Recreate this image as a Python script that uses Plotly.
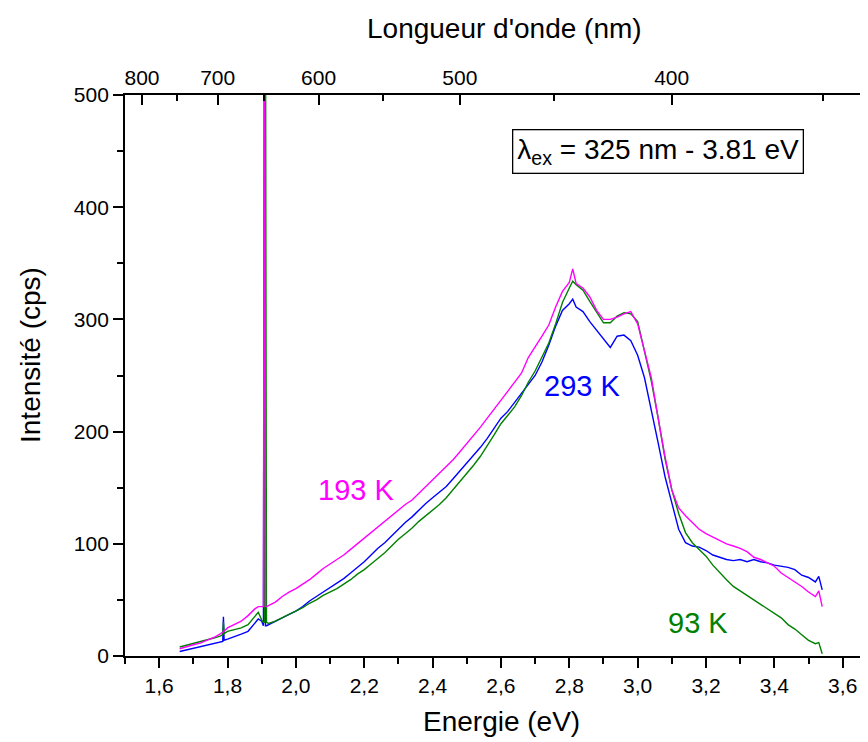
import plotly.graph_objects as go

# ---- data ----
energy_eV = [1.66, 1.68, 1.70, 1.72, 1.74, 1.76, 1.78, 1.786, 1.788, 1.790,
             1.80, 1.82, 1.84, 1.86, 1.88, 1.89, 1.90, 1.905, 1.908, 1.911, 1.914,
             1.92, 1.94, 1.96, 1.98, 2.00, 2.02, 2.04, 2.06, 2.08, 2.10,
             2.12, 2.14, 2.16, 2.18, 2.20, 2.22, 2.24, 2.26, 2.28, 2.30,
             2.32, 2.34, 2.36, 2.38, 2.40, 2.42, 2.44, 2.46, 2.48, 2.50,
             2.52, 2.54, 2.56, 2.58, 2.60, 2.62, 2.64, 2.66, 2.68, 2.70,
             2.72, 2.74, 2.76, 2.78, 2.80, 2.81, 2.82, 2.84, 2.86, 2.88, 2.90,
             2.92, 2.94, 2.96, 2.98, 3.00, 3.02, 3.04, 3.06, 3.08, 3.10,
             3.12, 3.14, 3.16, 3.18, 3.20, 3.22, 3.24, 3.26, 3.28, 3.30,
             3.32, 3.34, 3.36, 3.38, 3.40, 3.42, 3.44, 3.46, 3.48, 3.50,
             3.52, 3.53, 3.54]

int_293K = [4, 5.5, 7, 8.5, 10, 11, 12.5, 13, 35, 14,
            15, 17, 19.5, 22, 30, 33, 31, 27, 600, 27, 27,
            28, 31, 34, 37, 40, 44, 49, 53, 57, 61,
            65, 69, 74, 79, 84, 90, 96, 101, 107, 113,
            119, 124, 130, 136, 141, 146, 151, 158, 165, 171,
            178, 186, 194, 203, 212, 218, 226, 233, 241, 250,
            262, 277, 294, 308, 314, 318, 311, 307, 298, 290, 282,
            275, 285, 286, 281, 268, 248, 220, 190, 160, 137,
            113, 101, 98, 97, 94, 90, 88, 86, 85, 86,
            84, 86, 84, 83, 81, 80, 79, 77, 72, 70,
            66, 71, 59]

int_193K = [6.5, 8.5, 10, 11.5, 14, 16.5, 20, 21, 21.5, 22,
            25, 28, 31, 36, 42, 44, 44, 44, 700, 44, 44,
            45, 48, 53, 57, 60, 64, 68, 73, 78, 82,
            86, 90, 95, 100, 105, 110, 115, 120, 125, 130,
            135, 139, 145, 151, 157, 163, 169, 175, 182, 189,
            196, 204, 212, 220, 228, 236, 243, 252, 266, 275,
            285, 295, 311, 325, 333, 345, 332, 328, 320, 308, 300,
            300, 302, 305, 307, 296, 272, 248, 212, 178, 148,
            132, 125, 119, 113, 109, 106, 103, 100, 98, 96,
            93, 88, 86, 83, 80, 74, 70, 66, 62, 57,
            53, 58, 44]

int_93K = [8, 9.5, 11, 12.5, 14, 16, 18, 19, 30, 20,
           22, 23.5, 25, 28, 36, 39, 32, 30, 30, 600, 30,
           29, 31, 34, 37, 40, 43, 47, 50, 54, 57,
           60, 64, 68, 73, 77, 82, 87, 92, 98, 104,
           109, 114, 120, 125, 130, 135, 141, 148, 155, 162,
           170, 178, 187, 197, 207, 215, 222, 232, 244, 254,
           266, 279, 296, 315, 328, 334, 331, 326, 316, 306, 297,
           297, 303, 306, 305, 298, 272, 245, 212, 176, 148,
           127, 110, 101, 95, 89, 81, 74, 68, 62, 58,
           54, 50, 46, 42, 38, 34, 28, 24, 19, 14,
           11, 12, 2]

wavelength_major_nm = [800, 700, 600, 500, 400]
wavelength_minor_nm = [750, 650, 550, 450, 350]
HC_EV_NM = 1239.84

FONT = "Liberation Sans, Arial, sans-serif"

fig = go.Figure()
fig.add_trace(go.Scatter(x=energy_eV, y=int_293K, mode="lines",
                         line=dict(color="#0000FF", width=1.4), name="293 K"))
fig.add_trace(go.Scatter(x=energy_eV, y=int_93K, mode="lines",
                         line=dict(color="#008000", width=1.4), name="93 K"))
fig.add_trace(go.Scatter(x=energy_eV, y=int_193K, mode="lines",
                         line=dict(color="#FF00FF", width=1.4), name="193 K"))
# dummy trace to activate top wavelength axis
fig.add_trace(go.Scatter(x=[None], y=[None], xaxis="x2", yaxis="y", showlegend=False,
                         hoverinfo="skip", mode="lines"))

xr = [1.5, 3.674]
axis_common = dict(showline=True, linecolor="black", linewidth=1.8,
                   tickcolor="black", tickwidth=1.8, showgrid=False, zeroline=False,
                   tickfont=dict(family=FONT, size=21, color="black"))

fig.update_layout(
    width=860, height=734,
    margin=dict(l=117, r=0, t=87, b=86),
    paper_bgcolor="white", plot_bgcolor="white",
    showlegend=False,
    separators=",.",
    font=dict(family=FONT, color="black"),
    xaxis=dict(range=xr, ticks="outside", ticklen=10, tick0=1.6, dtick=0.2,
               tickformat=".1f",
               minor=dict(ticks="outside", ticklen=6, tick0=1.5, dtick=0.1,
                          tickcolor="black", tickwidth=1.8),
               **axis_common),
    xaxis2=dict(range=xr, overlaying="x", side="top", anchor="y",
                ticks="inside", ticklen=10, tickmode="array",
                tickvals=[HC_EV_NM / w for w in wavelength_major_nm],
                ticktext=[str(w) for w in wavelength_major_nm],
                minor=dict(ticks="inside", ticklen=6, tickmode="array",
                           tickvals=[HC_EV_NM / w for w in wavelength_minor_nm],
                           tickcolor="black", tickwidth=1.8),
                **axis_common),
    yaxis=dict(range=[0, 500], ticks="outside", ticklen=10, dtick=100,
               minor=dict(ticks="outside", ticklen=6, dtick=50,
                          tickcolor="black", tickwidth=1.8),
               **axis_common),
)

annots = [
    dict(text="Energie (eV)", xref="paper", yref="paper", x=0.5074, y=-0.1176,
         showarrow=False, font=dict(size=28), xanchor="center", yanchor="middle"),
    dict(text="Longueur d'onde (nm)", xref="paper", yref="paper", x=0.511, y=1.1194,
         showarrow=False, font=dict(size=28), xanchor="center", yanchor="middle"),
    dict(text="Intensité (cps)", xref="paper", yref="paper", x=-0.1279, y=0.5365,
         showarrow=False, font=dict(size=28), textangle=-90,
         xanchor="center", yanchor="middle"),
    dict(text="λ<sub>ex</sub> = 325 nm - 3.81 eV", xref="paper", yref="paper",
         x=0.7174, y=0.8993, showarrow=False, font=dict(size=28),
         bordercolor="black", borderwidth=1.3, borderpad=4, bgcolor="white",
         xanchor="center", yanchor="middle"),
    dict(text="193 K", x=2.176, y=148, showarrow=False,
         font=dict(size=29, color="#FF00FF")),
    dict(text="293 K", x=2.837, y=240.6, showarrow=False,
         font=dict(size=29, color="#0000FF")),
    dict(text="93 K", x=3.177, y=29.4, showarrow=False,
         font=dict(size=29, color="#008000")),
]
for a in annots:
    fig.add_annotation(**a)

fig.write_html("out.html")
